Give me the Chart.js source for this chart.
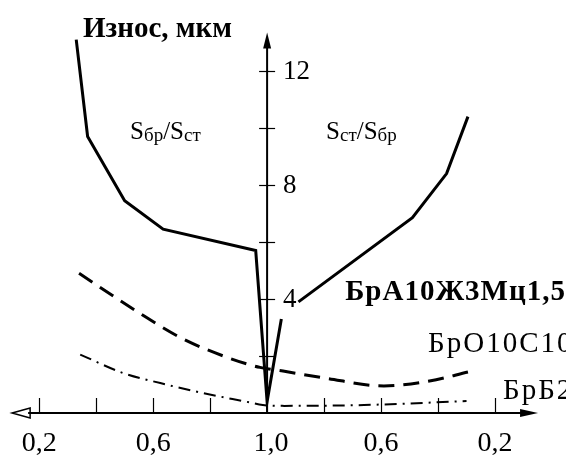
<!DOCTYPE html>
<html>
<head>
<meta charset="utf-8">
<script src="https://cdn.jsdelivr.net/npm/chart.js@4"></script>
<style>
  html, body { margin: 0; background: #fff; }
  #wrap { width: 566px; height: 455px; position: relative; }
</style>
</head>
<body>
<div id="wrap"><canvas id="wearChart"></canvas></div>
<script>
// Wear (мкм) vs area ratio. Left half: Sбр/Sст, right half: Sст/Sбр (both go 1,0 -> 0,2 outwards)
// БрА10Ж3Мц1,5 (solid)
const braLeftRatio = [0.33, 0.37, 0.50, 0.635, 0.96, 1.0];
const braLeftWear = [13.1, 9.7, 7.45, 6.45, 5.7, 0.4];
const braRightRatio = [0.95, null, 0.89, 0.49, 0.37, 0.295]; // null = break under the "4"
const braRightWear = [3.3, null, 3.9, 6.85, 8.4, 10.4];

// БрО10С10 (dashed)
const broLeftRatio = [0.34, 0.545, 0.695, 0.86, 0.975];
const broLeftWear = [4.9, 3.55, 2.65, 1.95, 1.6];
const broRightRatio = [0.944, 0.80, 0.59, 0.43, 0.295];
const broRightWear = [1.47, 1.23, 0.95, 1.12, 1.44];

// БрБ2 (dash-dot)
const brbLeftRatio = [0.344, 0.495, 0.625, 0.775, 0.93, 0.985];
const brbLeftWear = [2.05, 1.4, 1.05, 0.7, 0.39, 0.28];
const brbRightRatio = [0.94, 0.66, 0.30];
const brbRightWear = [0.25, 0.28, 0.42];

// axis ticks
const xTickRatios = [0.2, 0.4, 0.6, 0.8];
const xLabelRatios = [0.2, 0.6, 1.0];
const yTicks = [2, 4, 6, 8, 10, 12];
const yLabels = [4, 8, 12];

const FONT = '"Liberation Serif", "DejaVu Serif", serif';

// left side ratio r sits at r-1, right side at 1-r
function toPoints(leftR, leftW, rightR, rightW) {
  const pts = leftR.map((r, i) => ({ x: r - 1, y: leftW[i] }));
  rightR.forEach((r, i) => {
    if (r === null) {
      pts.push({ x: pts[pts.length - 1].x, y: null });
    } else {
      pts.push({ x: 1 - r, y: rightW[i] });
    }
  });
  return pts;
}

function fmt(v) {
  return v.toFixed(1).replace('.', ',');
}

const axesPlugin = {
  id: 'wearAxes',
  beforeDraw(chart) {
    const ctx = chart.ctx;
    ctx.save();
    ctx.fillStyle = '#fff';
    ctx.fillRect(0, 0, chart.width, chart.height);
    ctx.restore();
  },
  beforeDatasetsDraw(chart) {
    const ctx = chart.ctx;
    const xs = chart.scales.x;
    const ys = chart.scales.y;
    const x0 = xs.getPixelForValue(0);
    const y0 = ys.getPixelForValue(0);
    const xl = xs.getPixelForValue(-0.895);
    const xr = xs.getPixelForValue(0.951);
    const yt = ys.getPixelForValue(13.35);

    ctx.save();
    ctx.strokeStyle = '#000';
    ctx.fillStyle = '#000';
    ctx.lineWidth = 2;

    // x axis
    ctx.beginPath();
    ctx.moveTo(xl + 16, y0);
    ctx.lineTo(xr - 12, y0);
    ctx.stroke();
    // open arrow on the left
    ctx.lineWidth = 1.5;
    ctx.beginPath();
    ctx.moveTo(xl, y0);
    ctx.lineTo(xl + 18, y0 - 5);
    ctx.lineTo(xl + 18, y0 + 5);
    ctx.closePath();
    ctx.stroke();
    // filled arrow on the right
    ctx.beginPath();
    ctx.moveTo(xr, y0);
    ctx.lineTo(xr - 18, y0 - 4);
    ctx.lineTo(xr - 18, y0 + 4);
    ctx.closePath();
    ctx.fill();

    // y axis
    ctx.lineWidth = 2;
    ctx.beginPath();
    ctx.moveTo(x0, y0);
    ctx.lineTo(x0, yt + 10);
    ctx.stroke();
    ctx.beginPath();
    ctx.moveTo(x0, yt);
    ctx.lineTo(x0 - 4, yt + 16);
    ctx.lineTo(x0 + 4, yt + 16);
    ctx.closePath();
    ctx.fill();

    // x ticks (upwards)
    ctx.lineWidth = 1.2;
    xTickRatios.forEach(r => {
      [r - 1, 1 - r].forEach(v => {
        const px = Math.round(xs.getPixelForValue(v)) + 0.5;
        ctx.beginPath();
        ctx.moveTo(px, y0);
        ctx.lineTo(px, y0 - 15);
        ctx.stroke();
      });
    });
    // y ticks (across)
    yTicks.forEach(v => {
      const py = Math.round(ys.getPixelForValue(v)) + 0.5;
      ctx.beginPath();
      ctx.moveTo(x0 - 8, py);
      ctx.lineTo(x0 + 8, py);
      ctx.stroke();
    });

    // tick labels
    ctx.font = '28px ' + FONT;
    ctx.textAlign = 'center';
    ctx.textBaseline = 'alphabetic';
    xLabelRatios.forEach(r => {
      const vals = r === 1 ? [0] : [r - 1, 1 - r];
      vals.forEach(v => {
        const shift = v === 0 ? 4 : 0;
        ctx.fillText(fmt(r), xs.getPixelForValue(v) + shift, y0 + 38);
      });
    });
    ctx.font = '27px ' + FONT;
    ctx.textAlign = 'left';
    ctx.textBaseline = 'middle';
    yLabels.forEach(v => {
      ctx.fillText(String(v), x0 + 16, ys.getPixelForValue(v) + 1);
    });
    ctx.restore();
  },
  afterDatasetsDraw(chart) {
    const ctx = chart.ctx;
    const xs = chart.scales.x;
    const ys = chart.scales.y;
    ctx.save();
    ctx.fillStyle = '#000';
    ctx.textBaseline = 'alphabetic';
    ctx.textAlign = 'left';

    ctx.font = 'bold 29px ' + FONT;
    ctx.fillText('Износ, мкм', xs.getPixelForValue(-0.646), ys.getPixelForValue(13.2));

    ctx.font = 'bold 29px ' + FONT;
    ctx.letterSpacing = '1px';
    ctx.fillText('БрА10Ж3Мц1,5', xs.getPixelForValue(0.274), ys.getPixelForValue(3.95));
    ctx.font = '29px ' + FONT;
    ctx.letterSpacing = '2px';
    ctx.fillText('БрО10С10', xs.getPixelForValue(0.565), ys.getPixelForValue(2.14));
    ctx.fillText('БрБ2', xs.getPixelForValue(0.828), ys.getPixelForValue(0.49));
    ctx.letterSpacing = '0px';

    // ratio captions with subscripts
    function ratioText(a, b, x, y) {
      let cx = x;
      const parts = [['S', 25, 0], [a, 19, 2], ['/S', 25, 0], [b, 19, 2]];
      parts.forEach(([t, size, dy]) => {
        ctx.font = size + 'px ' + FONT;
        ctx.fillText(t, cx, y + dy);
        cx += ctx.measureText(t).width;
      });
    }
    ratioText('бр', 'ст', xs.getPixelForValue(-0.481), ys.getPixelForValue(9.6));
    ratioText('ст', 'бр', xs.getPixelForValue(0.207), ys.getPixelForValue(9.6));
    ctx.restore();
  }
};

new Chart(document.getElementById('wearChart'), {
  type: 'line',
  data: {
    datasets: [
      {
        label: 'БрА10Ж3Мц1,5',
        data: toPoints(braLeftRatio, braLeftWear, braRightRatio, braRightWear),
        borderColor: '#000',
        borderWidth: 3,
        tension: 0,
        spanGaps: false
      },
      {
        label: 'БрО10С10',
        data: toPoints(broLeftRatio, broLeftWear, broRightRatio, broRightWear),
        borderColor: '#000',
        borderWidth: 3,
        borderDash: [16, 9],
        cubicInterpolationMode: 'monotone'
      },
      {
        label: 'БрБ2',
        data: toPoints(brbLeftRatio, brbLeftWear, brbRightRatio, brbRightWear),
        borderColor: '#000',
        borderWidth: 2,
        borderDash: [12, 6, 2, 6],
        cubicInterpolationMode: 'monotone'
      }
    ]
  },
  options: {
    responsive: true,
    maintainAspectRatio: false,
    animation: false,
    clip: false,
    layout: { padding: { left: 5, right: 14, top: 14, bottom: 42 } },
    elements: { point: { radius: 0 } },
    plugins: {
      legend: { display: false },
      tooltip: { enabled: false }
    },
    scales: {
      x: { type: 'linear', min: -0.92, max: 1.0, display: false },
      y: { type: 'linear', min: 0, max: 14, display: false }
    }
  },
  plugins: [axesPlugin]
});
</script>
</body>
</html>
